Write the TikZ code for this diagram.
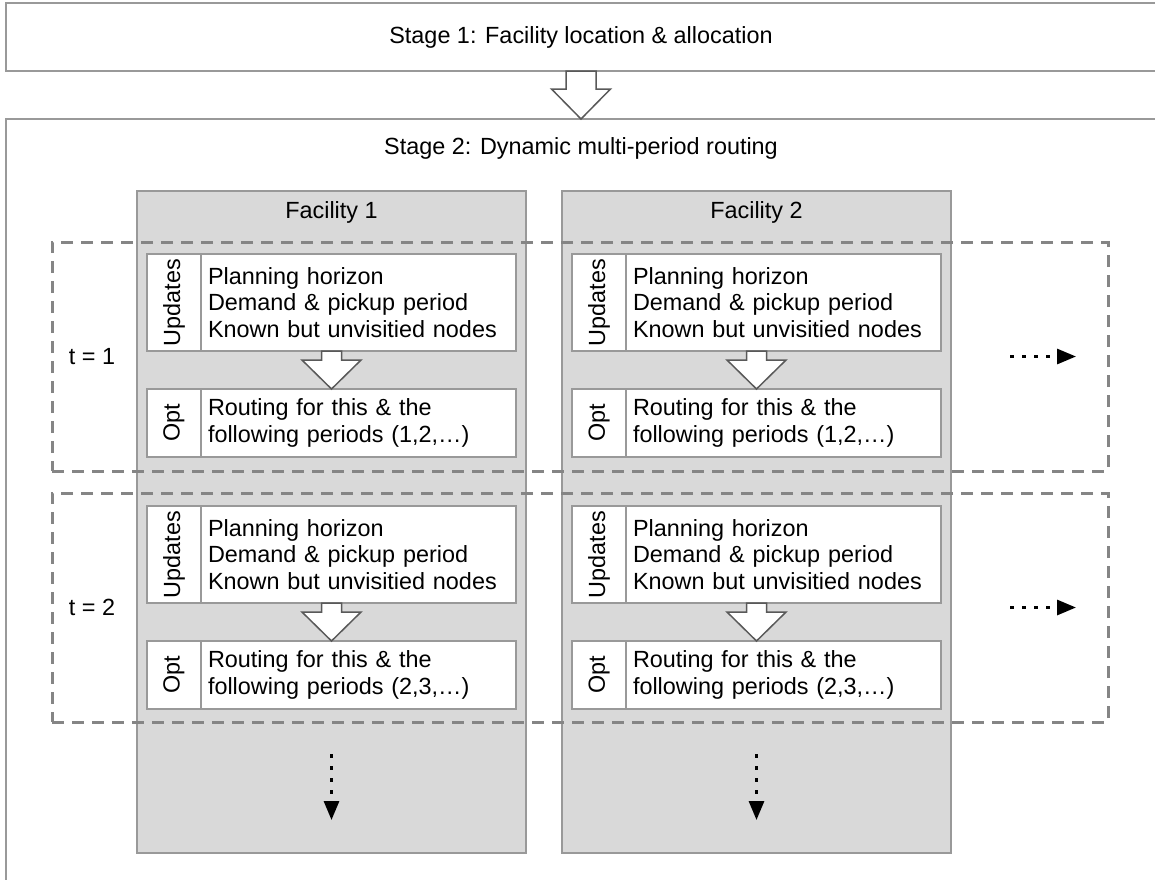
\documentclass[tikz,border=0pt]{standalone}
\usepackage{fontspec}
\setmainfont{Liberation Sans}
\usetikzlibrary{arrows.meta,positioning,calc}
\definecolor{boxgray}{HTML}{D9D9D9}
\definecolor{linegray}{HTML}{999999}
\definecolor{dashgray}{HTML}{858585}
\tikzset{every node/.style={outer sep=0pt},
 stagebox/.style={draw=linegray,line width=2pt,fill=white,anchor=north west,minimum width=1150pt,inner sep=0pt},
 column/.style={draw=linegray,line width=1.5pt,fill=boxgray,anchor=north west,minimum width=389pt,minimum height=662pt},
 period/.style={draw=dashgray,line width=3pt,dash pattern=on 12pt off 8pt,anchor=north west,minimum width=1056pt,minimum height=229pt},
 infobox/.style={draw=linegray,line width=1.5pt,fill=white,anchor=north west,text width=301pt,inner xsep=7pt,inner ysep=2pt,align=left},
 tagbox/.style={draw=linegray,line width=1.5pt,fill=white,rotate=90,anchor=south,minimum height=54pt,inner sep=0pt},
 fatarr/.style={draw=black!65,line width=1.5pt,fill=white,line join=miter},
 dotarr/.style={line width=3pt,dash pattern=on 4pt off 8pt,-{Triangle[length=19pt,width=15pt]}}}
\newcommand{\fatarrow}[5]{\filldraw[fatarr] let \p1=(#1),\p2=(#2) in (\x1-#3pt,\y1)--(\x1+#3pt,\y1)--(\x1+#3pt,\y2+#5pt)--(\x1+#4pt,\y2+#5pt)--(\x1,\y2)--(\x1-#4pt,\y2+#5pt)--(\x1-#3pt,\y2+#5pt)--cycle;}

\begin{document}
\begin{tikzpicture}[x=1pt,y=1pt,font=\fontsize{23.4}{26.7}\selectfont]
\useasboundingbox (0,0) rectangle (1155,-879);
\node[stagebox,minimum height=68pt] (s1) at (6,-3) {Stage 1: Facility location \& allocation};
\node[stagebox,minimum height=800pt] (s2) at (6,-119) {};
\node (s2t) at ($(s2.north)+(0,-29)$) {Stage 2: Dynamic multi-period routing};
\fatarrow{s1.south}{s2.north}{15}{29.5}{30}
\foreach \i in {1,2}{
 \node[column] (f\i) at ({425*\i-288},-191) {};
 \node (fl\i) at ($(f\i.north)+(0,-21)$) {Facility \i};
 \draw[dotarr] ($(f\i.south)+(0,99)$) -- ++(0,-66);}
\foreach \j in {1,2}{
 \node[period] (p\j) at (52,{-242-251*(\j-1)}) {};
 \node (tl\j) at ($(p\j.west)+(40,0)$) {t = \j};
 \draw[dotarr] ($(p\j.east)+(-98,0)$) -- ++(66,0);}
\foreach \i in {1,2}\foreach \j in {1,2}{
 \pgfmathtruncatemacro\k{\j+1}
 \node[infobox,minimum height=97pt] (u\i\j) at ($(f\i.north west)+(64,{-63-252*(\j-1)})$) {Planning horizon\\Demand \& pickup period\\Known but unvisitied nodes};
 \node[tagbox,minimum width=97pt] (ut\i\j) at (u\i\j.west) {Updates};
 \node[infobox,minimum height=68pt] (o\i\j) at ($(u\i\j.south west)+(0,-38)$) {Routing for this \& the\\following periods (\j,\k,…)};
 \node[tagbox,minimum width=68pt] (ot\i\j) at (o\i\j.west) {Opt};
 \fatarrow{f\i.south |- u\i\j.south}{f\i.south |- o\i\j.north}{10}{29.5}{29}}
\end{tikzpicture}
\end{document}
